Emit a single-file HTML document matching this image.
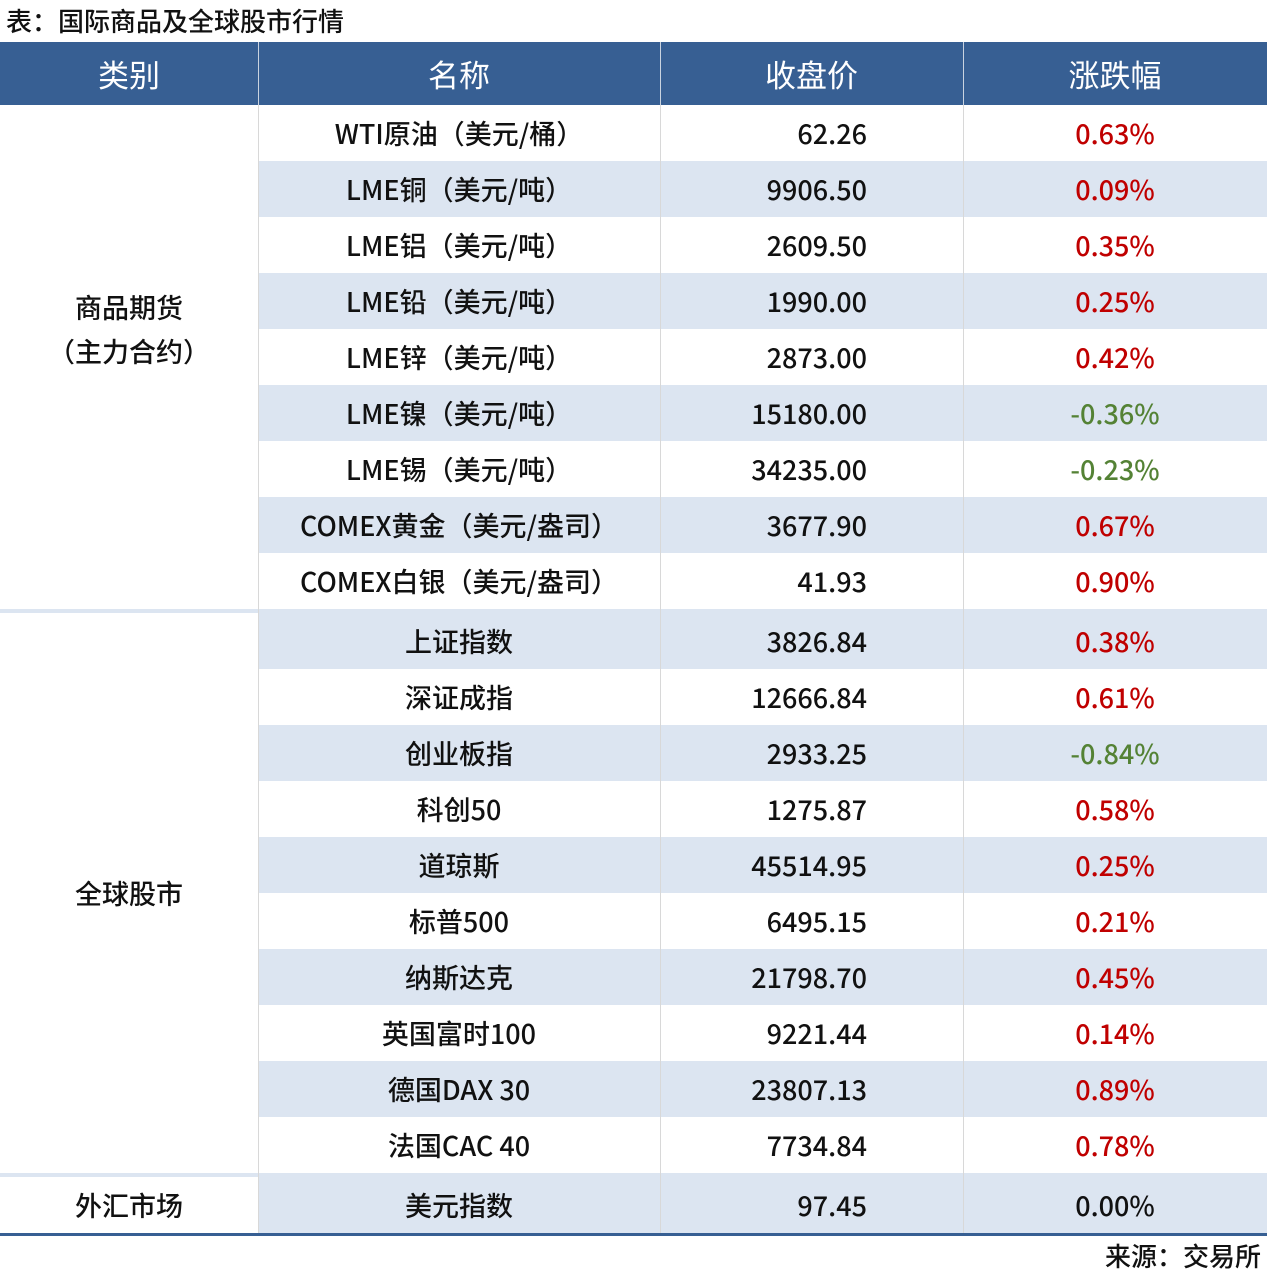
<!DOCTYPE html>
<html><head><meta charset="utf-8"><style>
body{margin:0;width:1267px;height:1278px;background:#fff;position:relative;overflow:hidden;font-family:"Liberation Sans","Noto Sans CJK SC",sans-serif;color:#111}
div{position:absolute;box-sizing:border-box}
.t{white-space:nowrap;font-size:27px;line-height:56px;font-family:"Noto Sans CJK SC",sans-serif;font-weight:500}
.h{color:#fff;font-size:31px;line-height:63px;text-align:center;top:42px;font-family:"Noto Sans CJK SC",sans-serif}
.r{color:#c00000}.g{color:#548235}
</style></head><body>
<div class="t" style="left:6px;top:0;line-height:42px;font-size:26px">表：国际商品及全球股市行情</div>
<div style="left:0;top:42px;width:1267px;height:63px;background:#375f93"></div>
<div style="left:258px;top:42px;width:1px;height:63px;background:#c9d3e0"></div>
<div style="left:660px;top:42px;width:1px;height:63px;background:#c9d3e0"></div>
<div style="left:963px;top:42px;width:1px;height:63px;background:#c9d3e0"></div>
<div class="h" style="left:0;width:258px">类别</div>
<div class="h" style="left:258px;width:402px">名称</div>
<div class="h" style="left:660px;width:303px">收盘价</div>
<div class="h" style="left:963px;width:304px">涨跌幅</div>
<div id="rows"></div>
<script>
var rows=[
["WTI原油（美元/桶）","62.26","0.63%","r"],
["LME铜（美元/吨）","9906.50","0.09%","r"],
["LME铝（美元/吨）","2609.50","0.35%","r"],
["LME铅（美元/吨）","1990.00","0.25%","r"],
["LME锌（美元/吨）","2873.00","0.42%","r"],
["LME镍（美元/吨）","15180.00","-0.36%","g"],
["LME锡（美元/吨）","34235.00","-0.23%","g"],
["COMEX黄金（美元/盎司）","3677.90","0.67%","r"],
["COMEX白银（美元/盎司）","41.93","0.90%","r"],
["上证指数","3826.84","0.38%","r"],
["深证成指","12666.84","0.61%","r"],
["创业板指","2933.25","-0.84%","g"],
["科创50","1275.87","0.58%","r"],
["道琼斯","45514.95","0.25%","r"],
["标普500","6495.15","0.21%","r"],
["纳斯达克","21798.70","0.45%","r"],
["英国富时100","9221.44","0.14%","r"],
["德国DAX 30","23807.13","0.89%","r"],
["法国CAC 40","7734.84","0.78%","r"],
["美元指数","97.45","0.00%",""]];
var h="";
for(var i=0;i<rows.length;i++){
 var ty;
 if(i<9){ty=105+56*i;}else if(i<19){ty=613+56*(i-9);}else{ty=1177;}
 var sh=(i<9?i%2==1:(i<19?(i-9)%2==0:true));
 var st=ty,sht=56;
 if(i==9){st=609;sht=60;} if(i==19){st=1173;sht=60;}
 if(sh)h+='<div style="left:258px;top:'+st+'px;width:1009px;height:'+sht+'px;background:#dce5f1"></div>';
 var c=rows[i];
 h+='<div class="t" style="left:258px;width:402px;text-align:center;top:'+ty+'px">'+c[0]+'</div>';
 h+='<div class="t" style="left:660px;width:207px;text-align:right;top:'+ty+'px">'+c[1]+'</div>';
 h+='<div class="t '+c[3]+'" style="left:963px;width:304px;text-align:center;top:'+ty+'px">'+c[2]+'</div>';
}
h+='<div style="left:258px;top:105px;width:1px;height:1128px;background:#d8d8d8"></div>';
h+='<div style="left:660px;top:105px;width:1px;height:1128px;background:#d8d8d8"></div>';
h+='<div style="left:963px;top:105px;width:1px;height:1128px;background:#d8d8d8"></div>';
h+='<div style="left:0;top:609px;width:258px;height:4px;background:#dce5f1"></div>';
h+='<div style="left:0;top:1173px;width:258px;height:4px;background:#dce5f1"></div>';
h+='<div style="left:0;top:1233px;width:1267px;height:3px;background:#375f93"></div>';
h+='<div class="t" style="left:0;width:258px;text-align:center;top:285px;line-height:44px">商品期货<br>（主力合约）</div>';
h+='<div class="t" style="left:0;width:258px;text-align:center;top:865px">全球股市</div>';
h+='<div class="t" style="left:0;width:258px;text-align:center;top:1177px">外汇市场</div>';
h+='<div class="t" style="right:6px;top:1236px;line-height:40px;font-size:26px">来源：交易所</div>';
document.getElementById("rows").outerHTML=h;
</script>
</body></html>
